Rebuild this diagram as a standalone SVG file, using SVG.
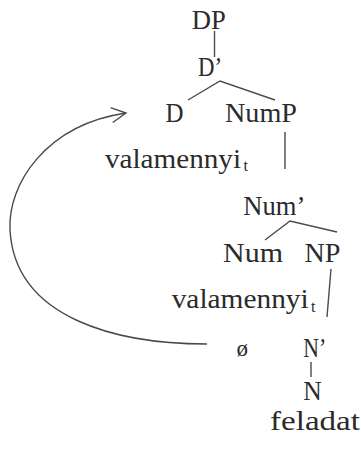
<svg xmlns="http://www.w3.org/2000/svg" width="361" height="451" viewBox="0 0 361 451">
<style>
text{font-family:"Liberation Serif","Times New Roman",serif;font-size:26.5px;fill:#2b2b2b}
.sub{font-size:16px}
.ln{stroke:#4a4a4a;stroke-width:1.4;fill:none}
</style>
<defs>
<marker id="arr" markerUnits="userSpaceOnUse" markerWidth="20" markerHeight="20" refX="15" refY="8" orient="auto" overflow="visible">
<path d="M0.5,0.5 L15,8 L0.5,15.5" fill="none" stroke="#4a4a4a" stroke-width="1.4"/>
</marker>
</defs>
<rect width="361" height="451" fill="#fff"/>
<g id="connectors">
<path class="ln" d="M214.5,31 L214.5,57"/>
<path class="ln" d="M188,100 L220,81 L275,100"/>
<path class="ln" d="M285,132 L285,169"/>
<path class="ln" d="M265,240 L290,221 L337,232"/>
<path class="ln" d="M331,269 L327,317"/>
<path class="ln" d="M311,362 L311,377"/>
<path class="ln" marker-end="url(#arr)" d="M207,344 C120,344 15,320 10,230 C7.5,185 45,125 126,113"/>
</g>
<g id="DP"><text x="191.7" y="29" textLength="34" lengthAdjust="spacingAndGlyphs">DP</text></g>
<g id="Dbar"><text x="198" y="76" textLength="24" lengthAdjust="spacingAndGlyphs">D’</text></g>
<g id="D"><text x="165.5" y="121.5" textLength="18" lengthAdjust="spacingAndGlyphs">D</text></g>
<g id="NumP"><text x="225" y="121.5" textLength="72" lengthAdjust="spacingAndGlyphs">NumP</text></g>
<g id="valamennyi1"><text x="105" y="168" textLength="136" lengthAdjust="spacingAndGlyphs">valamennyi</text><text class="sub" x="243.5" y="171">t</text></g>
<g id="Numbar"><text x="243.3" y="215" textLength="62" lengthAdjust="spacingAndGlyphs">Num’</text></g>
<g id="Num"><text x="223" y="261.5" textLength="60" lengthAdjust="spacingAndGlyphs">Num</text></g>
<g id="NP"><text x="304.5" y="261.5" textLength="36" lengthAdjust="spacingAndGlyphs">NP</text></g>
<g id="valamennyi2"><text x="171.7" y="308.3" textLength="137" lengthAdjust="spacingAndGlyphs">valamennyi</text><text class="sub" x="311" y="311.5">t</text></g>
<g id="empty"><text x="236.5" y="356" style="font-size:23px">ø</text></g>
<g id="Nbar"><text x="303.3" y="356.5" textLength="23" lengthAdjust="spacingAndGlyphs">N’</text></g>
<g id="N"><text x="303.3" y="400" textLength="18.5" lengthAdjust="spacingAndGlyphs">N</text></g>
<g id="feladat"><text x="270" y="430" textLength="90" lengthAdjust="spacingAndGlyphs">feladat</text></g>
</svg>
